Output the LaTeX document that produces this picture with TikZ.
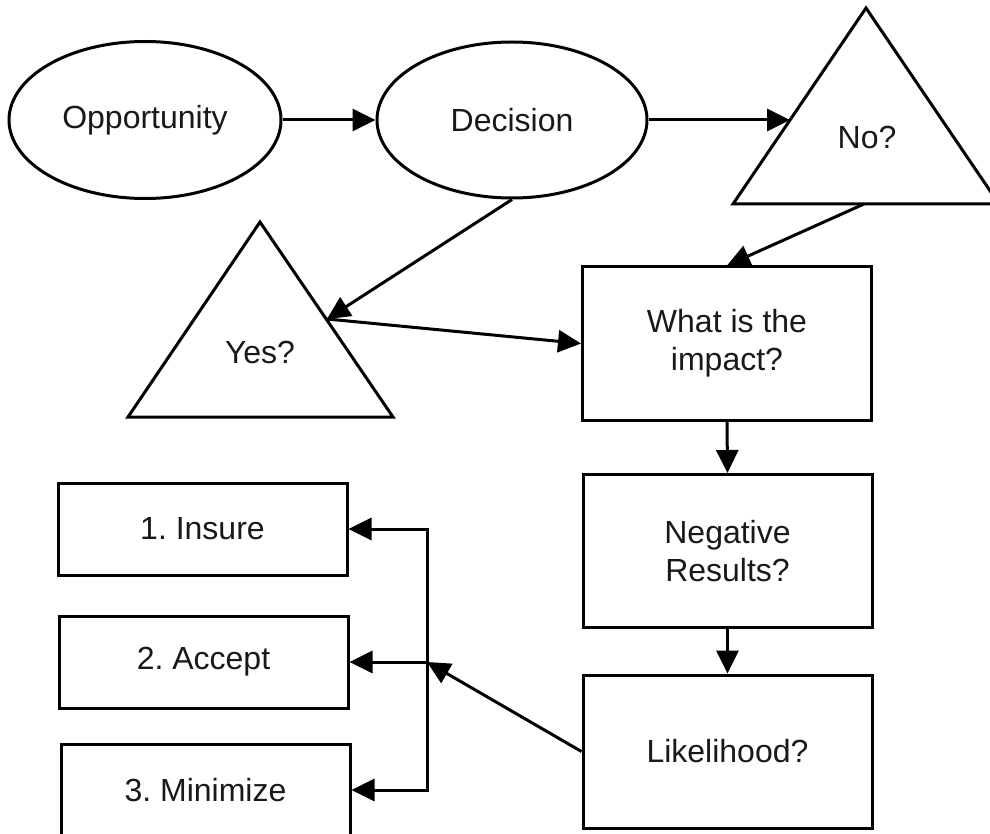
\documentclass[tikz,border=0pt]{standalone}
\usepackage{fontspec}
\setmainfont{Liberation Sans}
\usetikzlibrary{shapes.geometric,arrows.meta}
\frenchspacing
\begin{document}
\begin{tikzpicture}[x=0.5pt,y=-0.5pt,
  every node/.style={font=\fontsize{16}{19}\selectfont\frenchspacing, align=center, text=black!90},
  oval/.style={draw, ellipse, line width=1.5pt, minimum width=136pt, minimum height=78.5pt, inner sep=0pt},
  bigbox/.style={draw, rectangle, line width=1.5pt, minimum width=144.5pt, minimum height=76.5pt, inner sep=0pt},
  smallbox/.style={draw, rectangle, line width=1.5pt, minimum width=144.5pt, minimum height=46pt, inner sep=0pt},
  tri/.style={draw, line width=1.5pt, line join=miter},
  label/.style={inner sep=0pt},
  conn/.style={line width=1.5pt, -{Triangle[length=11.5pt,width=11pt]}}
]
\useasboundingbox (0,0) rectangle (990,834);
\clip (0,0) rectangle (990,834);

% ellipses
\node[oval] (opp) at (145,120) {Opportunity};
\node[oval, minimum width=135pt, minimum height=78pt] (dec) at (512,120) {Decision};

% triangles
\draw[tri] (866,8) -- (999,204) -- (733,204) -- cycle;
\node[label] (notext) at (867,137) {No?};
\draw[tri] (260,222) -- (393,417) -- (128,417) -- cycle;
\node[label] (yestext) at (260,352) {Yes?};

\coordinate (noL) at (790,120);
\coordinate (noB) at (864,204);
\coordinate (yesR) at (327,319);

% boxes on the right
\node[bigbox] (what) at (727,343.5) {What is the\\impact?};
\node[bigbox] (neg) at (727.5,551) {Negative\\Results?};
\node[bigbox] (lik) at (727.5,751.5) {Likelihood?};

% boxes on the left
\node[smallbox] (ins) at (202.5,529) {1. Insure};
\node[smallbox] (acc) at (203.5,662) {2. Accept};
\node[smallbox] (min) at (205.5,790) {3. Minimize};

\coordinate (jA) at (427,662);

% connectors
\draw[conn] (opp.east) -- (dec.west);
\draw[conn] (dec.east) -- (noL);
\draw[conn] (dec.south) -- (yesR);
\draw[conn] (noB) -- (what.north);
\draw[conn] (yesR) -- (what.west);
\draw[conn] (what.south) -- (neg.north);
\draw[conn] (neg.south) -- (lik.north);
\draw[conn] (lik.west) -- (jA);
\draw[conn] (jA) |- (ins.east);
\draw[conn] (jA) -- (acc.east);
\draw[conn] (jA) |- (min.east);
\end{tikzpicture}
\end{document}
